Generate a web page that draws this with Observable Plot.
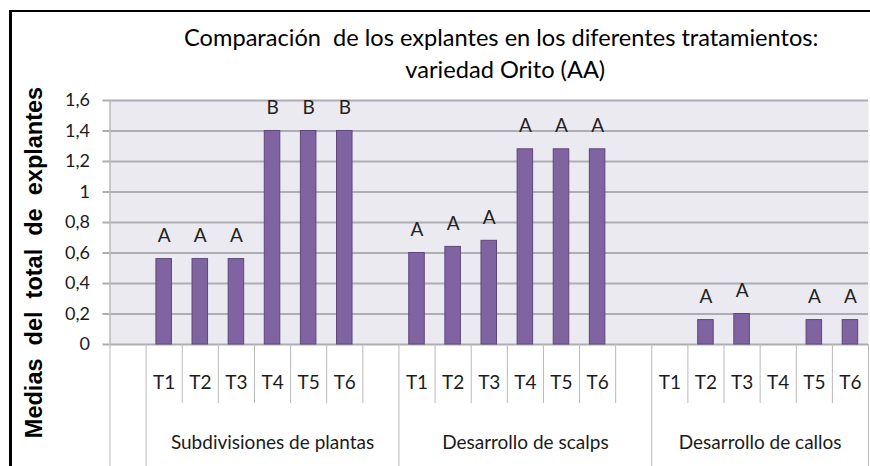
<!DOCTYPE html>
<html><head><meta charset="utf-8">
<script src="https://cdn.jsdelivr.net/npm/d3@7"></script>
<script src="https://cdn.jsdelivr.net/npm/@observablehq/plot@0.6"></script>
<style>
body{margin:0;background:#fff;}
#wrap{position:relative;width:870px;height:466px;overflow:hidden;background:#fff;}
#border{position:absolute;left:9px;top:10px;width:900px;height:500px;border-left:3px solid #000;border-top:2px solid #000;pointer-events:none;z-index:2;}
svg text{white-space:pre;}
</style></head><body>
<div id="wrap"><div id="border"></div></div>
<script>
// ---- data ----
const titleLines = ["Comparación  de los explantes en los diferentes tratamientos:", "variedad Orito (AA)"];
const yLabel = "Medias  del  total  de  explantes";
const groups = ["Subdivisiones de plantas", "Desarrollo de scalps", "Desarrollo de callos"];
const treatments = ["T1", "T2", "T3", "T4", "T5", "T6"];
const subdivisiones = [0.56, 0.56, 0.56, 1.40, 1.40, 1.40];
const scalps        = [0.60, 0.64, 0.68, 1.28, 1.28, 1.28];
const callos        = [0.00, 0.16, 0.20, 0.00, 0.16, 0.16];
const lettersSubdiv = ["A", "A", "A", "B", "B", "B"];
const lettersScalps = ["A", "A", "A", "A", "A", "A"];
const lettersCallos = ["", "A", "A", "", "A", "A"];
const yTicks = [0, 0.2, 0.4, 0.6, 0.8, 1, 1.2, 1.4, 1.6];

// ---- category layout (Excel multi-level axis: one leading blank slot, a blank slot after each group) ----
const values = [subdivisiones, scalps, callos];
const letters = [lettersSubdiv, lettersScalps, lettersCallos];
const slotsPerGroup = treatments.length + 1;
const totalSlots = 1 + slotsPerGroup * groups.length - 1; // last group's trailing slot is cut off
const rows = [];
groups.forEach((g, gi) => treatments.forEach((t, ti) => rows.push({
  group: g, treatment: t, value: values[gi][ti], letter: letters[gi][ti],
  slot: 1 + gi * slotsPerGroup + ti
})));
const groupStarts = groups.map((g, gi) => 1 + gi * slotsPerGroup);
const groupInfo = groups.map((g, gi) => {
  const s = groupStarts[gi], e = Math.min(s + slotsPerGroup, totalSlots);
  return {name: g, center: (s + e) / 2};
});
const longTicks = [0, ...groupStarts, totalSlots];
const shortTicks = d3.range(1, totalSlots).filter(v => !longTicks.includes(v));

const ink = "#1b1b1b";
const gridColor = "#ADADB3";
const sepColor = "#B9B9B9";
const font = "Lato, 'Open Sans', sans-serif";

const chart = Plot.plot({
  width: 870, height: 466,
  marginLeft: 109.5, marginRight: 2, marginTop: 100, marginBottom: 122,
  style: {fontFamily: font, color: ink, background: "transparent"},
  x: {domain: [0, totalSlots], axis: null},
  y: {domain: [0, 1.6], axis: null},
  marks: [
    Plot.frame({fill: "#ECEAF1", stroke: "none"}),
    Plot.gridY({ticks: yTicks, stroke: gridColor, strokeOpacity: 1, strokeWidth: 2}),
    Plot.axisY({ticks: yTicks, tickSize: 7, tickPadding: 13, stroke: gridColor, strokeWidth: 2,
      tickFormat: d => String(d).replace(".", ","), fontSize: 18, fill: ink, label: null}),
    Plot.ruleX([0], {stroke: sepColor, strokeWidth: 1.5}),
    Plot.axisX({ticks: shortTicks, tickSize: 59, tickFormat: () => "", stroke: sepColor, label: null}),
    Plot.axisX({ticks: longTicks, tickSize: 122, tickFormat: () => "", stroke: sepColor, label: null}),
    Plot.rectY(rows.filter(d => d.value > 0), {
      x1: "slot", x2: d => d.slot + 1, y: "value",
      insetLeft: 10.3, insetRight: 10.3, fill: "#8064A2", stroke: "#5C4778", strokeWidth: 1
    }),
    Plot.text(rows.filter(d => d.letter), {x: d => d.slot + 0.5, y: "value", text: "letter", dy: -23, fontSize: 19, fill: "#222"}),
    Plot.text(rows, {x: d => d.slot + 0.5, text: "treatment", frameAnchor: "bottom", lineAnchor: "middle", dy: 38, fontSize: 19, fill: ink}),
    Plot.text(groupInfo, {x: "center", text: "name", frameAnchor: "bottom", lineAnchor: "middle", dy: 98, fontSize: 19, fill: ink}),
    Plot.text([titleLines[0]], {text: d => d, frameAnchor: "top", lineAnchor: "middle", dx: 12, dy: -62, fontSize: 23.6, fill: "#000"}),
    Plot.text([titleLines[1]], {text: d => d, frameAnchor: "top", lineAnchor: "middle", dx: 16, dy: -30, fontSize: 23.6, fill: "#000"}),
    Plot.text([yLabel], {text: d => d, frameAnchor: "left", textAnchor: "middle", lineAnchor: "middle", rotate: -90, dx: -76, dy: 40,
      fontSize: 23.5, fontWeight: "bold", fontFamily: "'Liberation Sans', Arial, sans-serif", fill: "#000"})
  ]
});
document.getElementById("wrap").appendChild(chart);
</script>
</body></html>
